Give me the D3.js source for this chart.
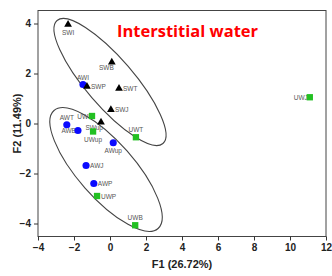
<!DOCTYPE html>
<html>
<head>
<meta charset="utf-8">
<script src="https://cdn.jsdelivr.net/npm/d3@7"></script>
<style>
  body { margin: 0; background: #fff; }
  .axis text { font-family: "Liberation Sans", Arial, sans-serif; font-weight: bold; font-size: 10px; fill: #222; }
  .axis path, .axis line { stroke: #333; }
  .ptlabel { font-family: "Liberation Sans", Arial, sans-serif; font-size: 6.5px; fill: #555; }
</style>
</head>
<body>
<script>
var W = 332, H = 276;
var margin = {top: 10.5, right: 6, bottom: 39.5, left: 38};
var width = W - margin.left - margin.right;
var height = H - margin.top - margin.bottom;

// Data
var names  = ["SWI","SWB","AWI","SWP","SWT","SWJ","AWT","AWB","UWI","SWup","UWup","AWup","UWT","AWJ","AWP","UWP","UWB","UWJ"];
var groups = ["SW","SW","AW","SW","SW","SW","AW","AW","UW","SW","UW","AW","UW","AW","AW","UW","UW","UW"];
var f1     = [-2.33, 0.1, -1.5, -1.28, 0.5, 0.05, -2.4, -1.78, -1.0, -0.5, -0.94, 0.18, 1.44, -1.33, -0.9, -0.72, 1.4, 11.1];
var f2     = [3.96, 2.45, 1.56, 1.48, 1.4, 0.55, -0.05, -0.28, 0.3, 0.05, -0.32, -0.77, -0.55, -1.68, -2.4, -2.9, -4.07, 1.05];
// label position: b=below, a=above, r=right, l=left, bl=below-left
var labelPos = ["b","bl","a","r","r","r","a","l","l","bl","b","b","a","r","r","r","a","l"];

var xTicks = [-4,-2,0,2,4,6,8,10,12];
var yTicks = [-4,-2,0,2,4];

// ellipses: two ends of the major axis (data units) and half width (px)
var ellipseEnds = [
  [[-2.94, 4.12], [2.94, -0.8]],
  [[-3.11, 0.52], [2.67, -4.2]]
];
var ellipseHalfWidth = [24, 28];

var dataset = names.map(function(n, i) {
  return {name: n, group: groups[i], x: f1[i], y: f2[i], pos: labelPos[i]};
});

var svg = d3.select("body").append("svg")
  .attr("width", W).attr("height", H);

var g = svg.append("g")
  .attr("transform", "translate(" + margin.left + "," + margin.top + ")");

var xScale = d3.scaleLinear().domain([-4, 12]).range([0, width]);
var yScale = d3.scaleLinear().domain([-4.52, 4.52]).range([height, 0]);

// frame
g.append("rect")
  .attr("width", width).attr("height", height)
  .attr("fill", "none").attr("stroke", "#444").attr("stroke-width", 1);

// axes
g.append("g").attr("class", "axis")
  .attr("transform", "translate(0," + height + ")")
  .call(d3.axisBottom(xScale).tickValues(xTicks).tickSize(4).tickPadding(3).tickFormat(d3.format("d")))
  .call(function(s) { s.select(".domain").remove(); });

g.append("g").attr("class", "axis")
  .call(d3.axisLeft(yScale).tickValues(yTicks).tickSize(4).tickPadding(3).tickFormat(d3.format("d")))
  .call(function(s) { s.select(".domain").remove(); });

// ellipses
ellipseEnds.forEach(function(e, i) {
  var x1 = xScale(e[0][0]), y1 = yScale(e[0][1]);
  var x2 = xScale(e[1][0]), y2 = yScale(e[1][1]);
  var cx = (x1 + x2) / 2, cy = (y1 + y2) / 2;
  var rx = Math.sqrt((x2 - x1) * (x2 - x1) + (y2 - y1) * (y2 - y1)) / 2;
  var ang = Math.atan2(y2 - y1, x2 - x1) * 180 / Math.PI;
  g.append("ellipse")
    .attr("cx", cx).attr("cy", cy)
    .attr("rx", rx).attr("ry", ellipseHalfWidth[i])
    .attr("transform", "rotate(" + ang + "," + cx + "," + cy + ")")
    .attr("fill", "none").attr("stroke", "#444").attr("stroke-width", 1.1);
});

// point labels (drawn first so markers sit on top)
g.selectAll("text.ptlabel")
  .data(dataset).enter()
  .append("text")
  .attr("class", "ptlabel")
  .attr("x", function(d) {
    var px = xScale(d.x);
    if (d.pos == "r") return px + 4;
    if (d.pos == "l") return px - 2;
    if (d.pos == "bl") return px + 2;
    return px;
  })
  .attr("y", function(d) {
    var py = yScale(d.y);
    if (d.pos == "b") return py + 10;
    if (d.pos == "a") return py - 5;
    if (d.pos == "bl") return py + 8;
    return py + 2.5;
  })
  .attr("text-anchor", function(d) {
    if (d.pos == "r") return "start";
    if (d.pos == "l" || d.pos == "bl") return "end";
    return "middle";
  })
  .text(function(d) { return d.name; });

// markers
var sym = {
  SW: d3.symbol().type(d3.symbolTriangle).size(26),
  AW: d3.symbol().type(d3.symbolCircle).size(40),
  UW: d3.symbol().type(d3.symbolSquare).size(40)
};
var col = {SW: "#000000", AW: "#0a0aff", UW: "#22c022"};

g.selectAll("path.pt")
  .data(dataset).enter()
  .append("path")
  .attr("class", "pt")
  .attr("d", function(d) { return sym[d.group](); })
  .attr("transform", function(d) { return "translate(" + xScale(d.x) + "," + yScale(d.y) + ")"; })
  .attr("fill", function(d) { return col[d.group]; });

// title
g.append("text")
  .attr("x", 79).attr("y", 26.5)
  .attr("font-family", "'Open Sans', sans-serif")
  .attr("font-weight", "bold")
  .attr("font-size", "16.5px")
  .attr("fill", "#ff0000")
  .text("Interstitial water");

// axis titles
svg.append("text")
  .attr("x", margin.left + xScale(4)).attr("y", 268)
  .attr("text-anchor", "middle")
  .attr("font-family", "'Liberation Sans', Arial, sans-serif")
  .attr("font-weight", "bold").attr("font-size", "11px").attr("fill", "#222")
  .text("F1 (26.72%)");

svg.append("text")
  .attr("transform", "translate(21," + (margin.top + yScale(0)) + ") rotate(-90)")
  .attr("text-anchor", "middle")
  .attr("font-family", "'Liberation Sans', Arial, sans-serif")
  .attr("font-weight", "bold").attr("font-size", "11px").attr("fill", "#222")
  .text("F2 (11.49%)");
</script>
</body>
</html>
